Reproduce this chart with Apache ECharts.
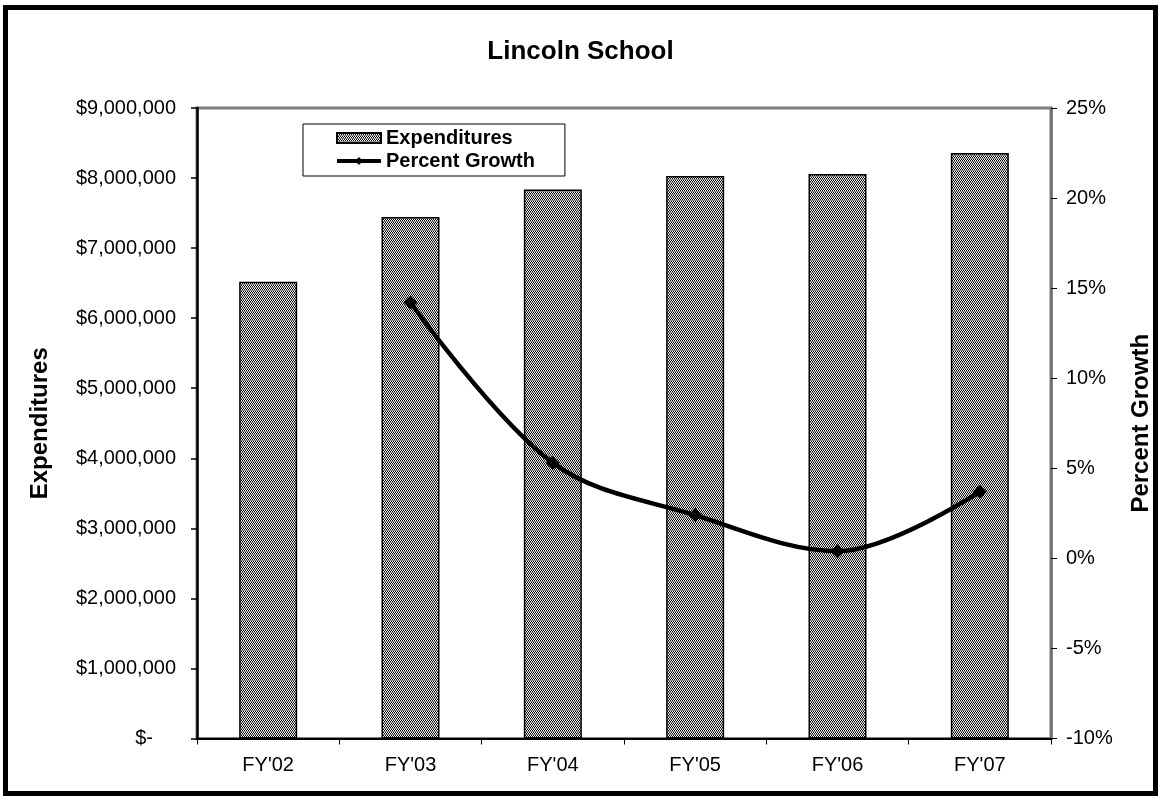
<!DOCTYPE html>
<html>
<head>
<meta charset="utf-8">
<title>Lincoln School</title>
<script src="https://cdn.jsdelivr.net/npm/echarts@6/dist/echarts.min.js"></script>
<style>
  html, body { margin: 0; padding: 0; background: #ffffff; }
  #chart { width: 1161px; height: 799px; }
</style>
</head>
<body>
<div id="chart"></div>
<script>
// Fiscal years shown on the category axis
const categories = ["FY'02", "FY'03", "FY'04", "FY'05", "FY'06", "FY'07"];
// Annual expenditures in dollars
const expenditures = [6520000, 7444000, 7837000, 8028000, 8058000, 8356000];
// Year-over-year growth in percent (no value for the first year)
const percentGrowth = [null, 14.2, 5.3, 2.4, 0.4, 3.7];
// Axis ranges
const dollarAxis = { min: 0, max: 9000000, interval: 1000000 };
const growthAxis = { min: -10, max: 25, interval: 5 };

const FONT = 'Liberation Sans, Arial, sans-serif';

function withCommas(n) {
  return String(n).replace(/\B(?=(\d{3})+(?!\d))/g, ',');
}

// Hatched grey fill for the bars: rows of black/white dots between grey rows
function barPattern() {
  const c = document.createElement('canvas');
  c.width = 2; c.height = 3;
  const g = c.getContext('2d');
  const rows = [
    ['#ffffff', '#000000'],
    ['#000000', '#ffffff'],
    ['#8c8c8c', '#8c8c8c']
  ];
  rows.forEach((r, y) => r.forEach((col, x) => { g.fillStyle = col; g.fillRect(x, y, 1, 1); }));
  return c;
}

const chart = echarts.init(document.getElementById('chart'), null, { renderer: 'canvas' });

chart.setOption({
  animation: false,
  backgroundColor: '#ffffff',
  textStyle: { fontFamily: FONT, color: '#000' },
  title: {
    text: 'Lincoln School',
    left: 'center',
    top: 34,
    textStyle: { fontFamily: FONT, fontSize: 26, fontWeight: 'bold', color: '#000' }
  },
  graphic: [{
    type: 'rect',
    shape: { x: 5.5, y: 7.5, width: 1150, height: 786 },
    style: { fill: 'none', stroke: '#000', lineWidth: 5 },
    silent: true
  }],
  legend: {
    left: 303,
    top: 124,
    orient: 'vertical',
    padding: [4, 30, 5, 32],
    itemGap: 3,
    itemWidth: 44,
    itemHeight: 10,
    borderColor: '#000',
    borderWidth: 1,
    backgroundColor: '#fff',
    textStyle: { fontFamily: FONT, fontSize: 20, fontWeight: 'bold', color: '#000' },
    data: [
      { name: 'Expenditures', icon: 'rect' },
      {
        name: 'Percent Growth',
        lineStyle: { color: '#000', width: 4 },
        itemStyle: { color: '#000' }
      }
    ]
  },
  grid: {
    left: 197,
    right: 103,
    top: 108,
    bottom: 60.5,
    show: true,
    borderColor: '#808080',
    borderWidth: 3,
    containLabel: false
  },
  xAxis: {
    type: 'category',
    data: categories,
    boundaryGap: true,
    axisLine: { lineStyle: { color: '#000', width: 2 } },
    axisTick: { show: true, length: 6, lineStyle: { color: '#000', width: 1 } },
    axisLabel: { fontFamily: FONT, fontSize: 20, color: '#000', margin: 17 },
    splitLine: { show: false }
  },
  yAxis: [
    {
      type: 'value',
      min: dollarAxis.min,
      max: dollarAxis.max,
      interval: dollarAxis.interval,
      position: 'left',
      name: 'Expenditures',
      nameLocation: 'middle',
      nameGap: 145,
      nameTextStyle: { fontFamily: FONT, fontSize: 24, fontWeight: 'bold', color: '#000' },
      axisLine: { show: true, lineStyle: { color: '#000', width: 2.5 } },
      axisTick: { show: true, length: 6, lineStyle: { color: '#000', width: 1.5 } },
      axisLabel: {
        fontFamily: FONT, fontSize: 20, color: '#000', margin: 21,
        formatter: v => v === 0 ? '{z|$-}' : '$' + withCommas(v),
        rich: {
          z: { fontFamily: FONT, fontSize: 20, color: '#000', padding: [0, 23, 0, 0] }
        }
      },
      splitLine: { show: false }
    },
    {
      type: 'value',
      min: growthAxis.min,
      max: growthAxis.max,
      interval: growthAxis.interval,
      position: 'right',
      name: 'Percent Growth',
      nameLocation: 'middle',
      nameGap: 78,
      nameTextStyle: { fontFamily: FONT, fontSize: 24, fontWeight: 'bold', color: '#000' },
      axisLine: { show: true, lineStyle: { color: '#707070', width: 2.5 } },
      axisTick: { show: true, length: 6, lineStyle: { color: '#000', width: 1 } },
      axisLabel: {
        fontFamily: FONT, fontSize: 20, color: '#000', margin: 15,
        formatter: v => v + '%'
      },
      splitLine: { show: false }
    }
  ],
  series: [
    {
      name: 'Expenditures',
      type: 'bar',
      yAxisIndex: 0,
      data: expenditures,
      barWidth: 58,
      itemStyle: {
        color: { image: barPattern(), repeat: 'repeat' },
        borderColor: '#000',
        borderWidth: 1.5
      },
      z: 2
    },
    {
      name: 'Percent Growth',
      type: 'line',
      yAxisIndex: 1,
      data: percentGrowth,
      smooth: 0.35,
      symbol: 'diamond',
      symbolSize: 14,
      lineStyle: { color: '#000', width: 4.5 },
      itemStyle: { color: '#000' },
      z: 5
    }
  ]
});
</script>
</body>
</html>
